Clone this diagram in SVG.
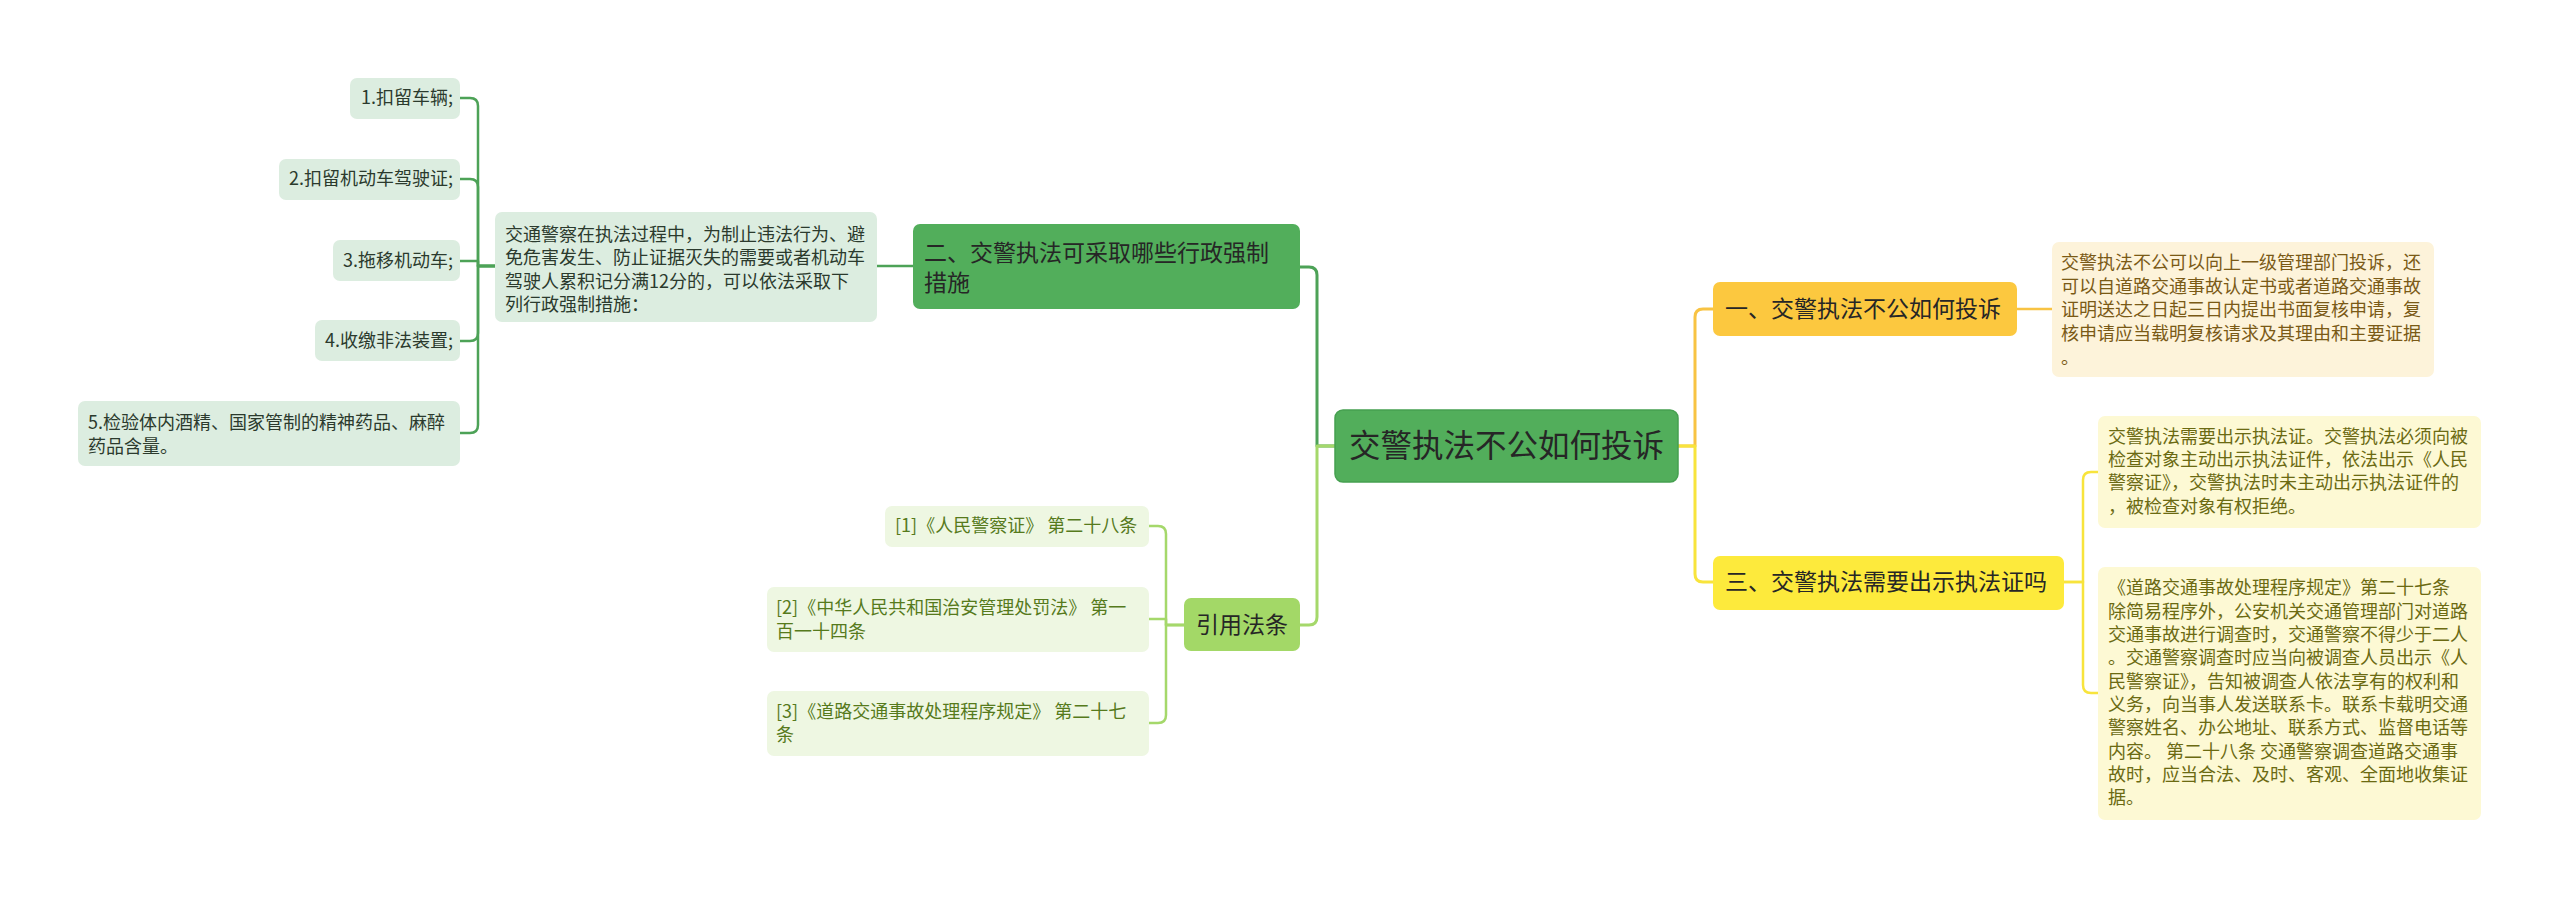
<svg xmlns="http://www.w3.org/2000/svg" width="2560" height="898" viewBox="0 0 2560 898">
<style>
text{font-family:"Noto Sans CJK SC","Noto Sans",sans-serif;}
.c{fill:none;stroke-linejoin:round;stroke-linecap:round;}
.main{stroke-width:3;}
.sub{stroke-width:2.5;}
.dg{stroke:#4da257;}
.lg{stroke:#a5d86b;}
.or{stroke:#f8c343;}
.ye{stroke:#f8e43c;}
.t18{font-size:18px;}
.t23{font-size:23px;fill:#262626;}
.gbox{fill:#dcede0;}
.gtxt{fill:#2b3a2d;}
.lbox{fill:#eef7e2;}
.ltxt{fill:#567a1c;}
.obox{fill:#fdf3da;}
.otxt{fill:#7a5a16;}
.ybox{fill:#fdf9d4;}
.ytxt{fill:#6b6a12;}
</style>
<rect width="2560" height="898" fill="#ffffff"/>
<g id="connectors">
<path class="c main dg" d="M1335,446 H1317 V275 Q1317,267 1309,267 H1300"/>
<path class="c main lg" d="M1335,446 H1317 V617 Q1317,625 1309,625 H1300"/>
<path class="c main or" d="M1678,446 H1695 V317 Q1695,309 1703,309 H1713"/>
<path class="c main ye" d="M1678,446 H1695 V574 Q1695,582 1703,582 H1713"/>
<path class="c sub dg" d="M913,266 H877"/>
<path class="c sub dg" d="M495,266 H478 V106 Q478,98 470,98 H460"/>
<path class="c sub dg" d="M495,266 H478 V187 Q478,179 470,179 H460"/>
<path class="c sub dg" d="M495,266 H478 V261 H460"/>
<path class="c sub dg" d="M495,266 H478 V333 Q478,341 470,341 H460"/>
<path class="c sub dg" d="M495,266 H478 V425 Q478,433 470,433 H460"/>
<path class="c sub lg" d="M1184,625 H1166 V534 Q1166,526 1158,526 H1149"/>
<path class="c sub lg" d="M1184,625 H1166 V619 H1149"/>
<path class="c sub lg" d="M1184,625 H1166 V715 Q1166,723 1158,723 H1149"/>
<path class="c sub or" d="M2017,309 H2052"/>
<path class="c sub ye" d="M2064,582 H2083 V480 Q2083,472 2091,472 H2098"/>
<path class="c sub ye" d="M2064,582 H2083 V685 Q2083,693 2091,693 H2098"/>
</g>
<g id="center">
<rect x="1335" y="410" width="343" height="72" rx="8" fill="#52ae5b" stroke="#46a050" stroke-width="1.5"/>
<text x="1506.5" y="457" font-size="31.5" fill="#262626" text-anchor="middle">交警执法不公如何投诉</text>
</g>
<g id="n2">
<rect x="913" y="224" width="387" height="85" rx="7" fill="#52ae5b"/>
<text class="t23" x="924" y="261">二、交警执法可采取哪些行政强制</text>
<text class="t23" x="924" y="291">措施</text>
</g>
<g id="n2-desc">
<rect class="gbox" x="495" y="212" width="382" height="110" rx="7"/>
<text class="t18 gtxt" x="505" y="241">交通警察在执法过程中，为制止违法行为、避</text>
<text class="t18 gtxt" x="505" y="264">免危害发生、防止证据灭失的需要或者机动车</text>
<text class="t18 gtxt" x="505" y="288">驾驶人累积记分满12分的，可以依法采取下</text>
<text class="t18 gtxt" x="505" y="311">列行政强制措施：</text>
</g>
<g id="n2-1">
<rect class="gbox" x="350" y="78" width="110" height="41" rx="7"/>
<text class="t18 gtxt" x="453" y="104" text-anchor="end">1.扣留车辆;</text>
</g>
<g id="n2-2">
<rect class="gbox" x="279" y="159" width="181" height="41" rx="7"/>
<text class="t18 gtxt" x="453" y="185" text-anchor="end">2.扣留机动车驾驶证;</text>
</g>
<g id="n2-3">
<rect class="gbox" x="333" y="240" width="127" height="41" rx="7"/>
<text class="t18 gtxt" x="453" y="267" text-anchor="end">3.拖移机动车;</text>
</g>
<g id="n2-4">
<rect class="gbox" x="315" y="320" width="145" height="41" rx="7"/>
<text class="t18 gtxt" x="453" y="347" text-anchor="end">4.收缴非法装置;</text>
</g>
<g id="n2-5">
<rect class="gbox" x="78" y="401" width="382" height="65" rx="7"/>
<text class="t18 gtxt" x="88" y="429">5.检验体内酒精、国家管制的精神药品、麻醉</text>
<text class="t18 gtxt" x="88" y="453">药品含量。</text>
</g>
<g id="ref">
<rect x="1184" y="598" width="116" height="53" rx="7" fill="#a3d867"/>
<text class="t23" x="1242" y="633" text-anchor="middle">引用法条</text>
</g>
<g id="ref-1">
<rect class="lbox" x="885" y="506" width="264" height="41" rx="7"/>
<text class="t18 ltxt" x="895" y="532">[1]《人民警察证》 第二十八条</text>
</g>
<g id="ref-2">
<rect class="lbox" x="767" y="587" width="382" height="65" rx="7"/>
<text class="t18 ltxt" x="776" y="614">[2]《中华人民共和国治安管理处罚法》 第一</text>
<text class="t18 ltxt" x="776" y="638">百一十四条</text>
</g>
<g id="ref-3">
<rect class="lbox" x="767" y="691" width="382" height="65" rx="7"/>
<text class="t18 ltxt" x="776" y="718">[3]《道路交通事故处理程序规定》 第二十七</text>
<text class="t18 ltxt" x="776" y="741">条</text>
</g>
<g id="n1">
<rect x="1713" y="282" width="304" height="54" rx="7" fill="#fcc83f"/>
<text class="t23" x="1725" y="317">一、交警执法不公如何投诉</text>
</g>
<g id="n1-1">
<rect class="obox" x="2052" y="242" width="382" height="135" rx="7"/>
<text class="t18 otxt" x="2061" y="269">交警执法不公可以向上一级管理部门投诉，还</text>
<text class="t18 otxt" x="2061" y="293">可以自道路交通事故认定书或者道路交通事故</text>
<text class="t18 otxt" x="2061" y="316">证明送达之日起三日内提出书面复核申请，复</text>
<text class="t18 otxt" x="2061" y="340">核申请应当载明复核请求及其理由和主要证据</text>
<text class="t18 otxt" x="2061" y="364">。</text>
</g>
<g id="n3">
<rect x="1713" y="556" width="351" height="54" rx="7" fill="#fdea3c"/>
<text class="t23" x="1725" y="590">三、交警执法需要出示执法证吗</text>
</g>
<g id="n3-1">
<rect class="ybox" x="2098" y="416" width="383" height="112" rx="7"/>
<text class="t18 ytxt" x="2108" y="443">交警执法需要出示执法证。交警执法必须向被</text>
<text class="t18 ytxt" x="2108" y="466">检查对象主动出示执法证件，依法出示《人民</text>
<text class="t18 ytxt" x="2108" y="489">警察证》，交警执法时未主动出示执法证件的</text>
<text class="t18 ytxt" x="2108" y="513">，被检查对象有权拒绝。</text>
</g>
<g id="n3-2">
<rect class="ybox" x="2098" y="567" width="383" height="253" rx="7"/>
<text class="t18 ytxt" x="2108" y="594">《道路交通事故处理程序规定》第二十七条</text>
<text class="t18 ytxt" x="2108" y="618">除简易程序外，公安机关交通管理部门对道路</text>
<text class="t18 ytxt" x="2108" y="641">交通事故进行调查时，交通警察不得少于二人</text>
<text class="t18 ytxt" x="2108" y="664">。交通警察调查时应当向被调查人员出示《人</text>
<text class="t18 ytxt" x="2108" y="688">民警察证》，告知被调查人依法享有的权利和</text>
<text class="t18 ytxt" x="2108" y="711">义务，向当事人发送联系卡。联系卡载明交通</text>
<text class="t18 ytxt" x="2108" y="734">警察姓名、办公地址、联系方式、监督电话等</text>
<text class="t18 ytxt" x="2108" y="758">内容。 第二十八条 交通警察调查道路交通事</text>
<text class="t18 ytxt" x="2108" y="781">故时，应当合法、及时、客观、全面地收集证</text>
<text class="t18 ytxt" x="2108" y="804">据。</text>
</g>
</svg>
